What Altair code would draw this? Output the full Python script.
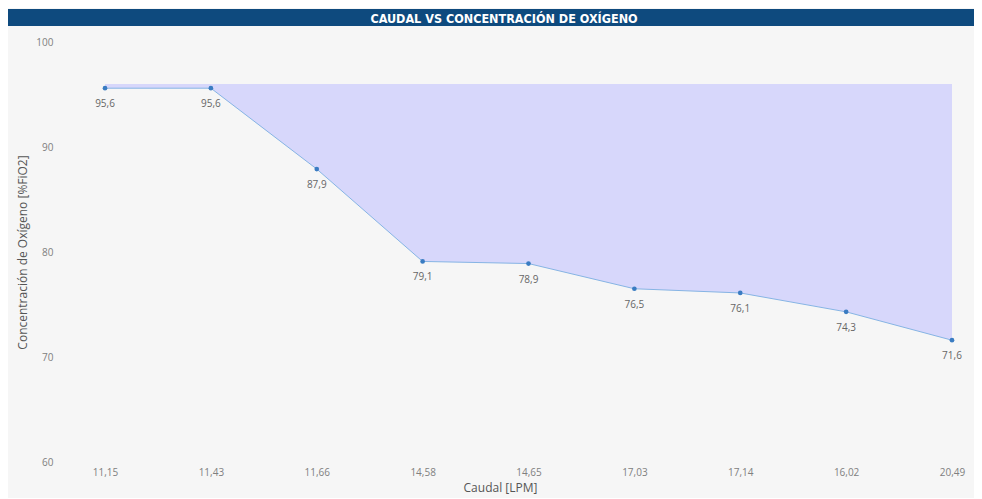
import altair as alt
import pandas as pd

# ---- data ----
caudal = ["11,15", "11,43", "11,66", "14,58", "14,65", "17,03", "17,14", "16,02", "20,49"]
oxigeno = [95.6, 95.6, 87.9, 79.1, 78.9, 76.5, 76.1, 74.3, 71.6]
y_ticks = [60, 70, 80, 90, 100]
area_top = 96.0
title_text = "CAUDAL VS CONCENTRACIÓN DE OXÍGENO"
x_title = "Caudal [LPM]"
y_title = "Concentración de Oxígeno [%FiO2]"

df = pd.DataFrame({
    "caudal": caudal,
    "oxigeno": oxigeno,
    "etiqueta": [f"{v:.1f}".replace(".", ",") for v in oxigeno],
})

W, H = 887, 420
FONT = "Open Sans"

x_enc = alt.X(
    "caudal:N", sort=None,
    scale=alt.Scale(type="point", padding=0.189),
    axis=alt.Axis(title=x_title, labelAngle=0, domain=False, ticks=False,
                  labelPadding=5, labelColor="#808080", labelFontSize=10,
                  labelFont=FONT, titleFont=FONT,
                  titleColor="#555555", titleFontSize=12, titleFontWeight="normal",
                  titlePadding=5, titleX=415),
)
y_enc = alt.Y(
    "oxigeno:Q",
    scale=alt.Scale(domain=[60, 100], nice=False, zero=False),
    axis=alt.Axis(title=y_title, values=y_ticks, grid=False, domain=False, ticks=False,
                  labelPadding=32, labelColor="#808080", labelFontSize=10,
                  labelFont=FONT, titleFont=FONT,
                  titleColor="#555555", titleFontSize=12, titleFontWeight="normal",
                  titlePadding=6),
)

base = alt.Chart(df)

area = base.mark_area(color="#d7d7fb", opacity=1).encode(
    x=x_enc, y=y_enc, y2=alt.datum(area_top)
)
line = base.mark_line(color="#86b4e4", strokeWidth=1).encode(x=x_enc, y=y_enc)
points = base.mark_point(filled=True, size=22, color="#3a7cc2", opacity=1).encode(x=x_enc, y=y_enc)
labels = base.mark_text(dy=11, baseline="top", fontSize=10, color="#666666", font=FONT).encode(
    x=x_enc, y=y_enc, text="etiqueta:N"
)

tdf = pd.DataFrame({"t": [title_text]})
bar = alt.Chart(tdf).mark_rect(color="#0e4a7e").encode(
    x=alt.value(-77), x2=alt.value(889), y=alt.value(-33), y2=alt.value(-16)
)
title = alt.Chart(tdf).mark_text(
    color="white", fontWeight="bold", fontSize=12.5, baseline="alphabetic",
    font="'DejaVu Sans Condensed', Roboto"
).encode(x=alt.value(419), y=alt.value(-19), text="t:N")

chart = alt.layer(area, line, points, labels, bar, title).properties(
    width=W, height=H,
    padding={"left": 77, "top": 34, "right": 2, "bottom": 36},
    autosize=alt.AutoSizeParams(type="none"),
    background="#f6f6f6",
).configure_view(stroke=None)

chart.save("out.html", embed_options={"renderer": "svg", "actions": False})
